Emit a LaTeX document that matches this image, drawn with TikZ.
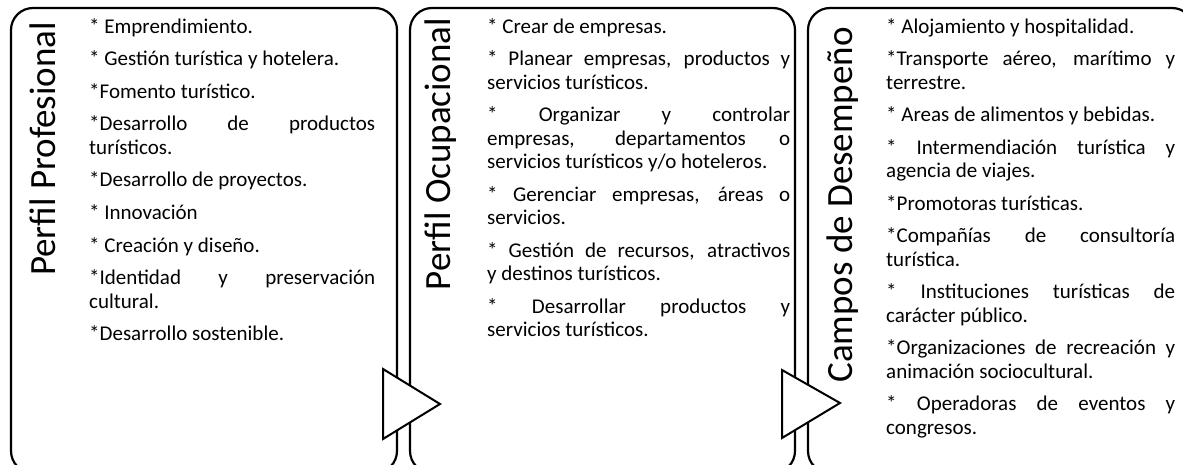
\documentclass[tikz,border=0pt]{standalone}
\usepackage{fontspec}
\setmainfont{Carlito}
\begin{document}
\begin{tikzpicture}[x=1pt,y=-1pt,
  panel/.style={draw=black, line width=2.2pt, rounded corners=22pt},
  tri/.style={draw=black, line width=2pt, fill=white, line join=miter},
  title/.style={rotate=90, anchor=base, inner sep=0pt, font=\fontsize{37}{40}\selectfont},
  body/.style={anchor=north west, inner sep=0pt, align=justify, font=\fontsize{21}{23.4}\selectfont}]
\useasboundingbox (0,0) rectangle (1183,465);
\clip (0,0) rectangle (1183,465);
% panels
\draw[panel] (11,8) rectangle (397,473);
\draw[panel] (410,8) rectangle (795,473);
\draw[panel] (808,8) rectangle (1194,473);
% titles
\node[title] (t1) at (55,149) {Perfil Profesional};
\node[title] (t2) at (450,154) {Perfil Ocupacional};
\node[title] (t3) at (852,205) {Campos de Desempeño};
% texts
\newcommand{\bodysetup}{\setlength{\parskip}{9.2pt}\hyphenpenalty=10000\exhyphenpenalty=10000\tolerance=9999\emergencystretch=20pt\strut}
\node[body, text width=286pt] (b1) at (89,16.6) {\bodysetup
* Emprendimiento.\par
* Gestión turística y hotelera.\par
*Fomento turístico.\par
*Desarrollo de productos\linebreak turísticos.\par
*Desarrollo de proyectos.\par
* Innovación\par
* Creación y diseño.\par
*Identidad y preservación\linebreak cultural.\par
*Desarrollo sostenible.};
\node[body, text width=303pt] (b2) at (487,16.6) {\bodysetup
* Crear de empresas.\par
* Planear empresas, productos y\linebreak servicios turísticos.\par
* Organizar y controlar\linebreak empresas, departamentos o\linebreak servicios turísticos y/o hoteleros.\par
* Gerenciar empresas, áreas o\linebreak servicios.\par
* Gestión de recursos, atractivos\linebreak y destinos turísticos.\par
* Desarrollar productos y\linebreak servicios turísticos.};
\node[body, text width=289pt] (b3) at (886,16.6) {\bodysetup
* Alojamiento y hospitalidad.\par
*Transporte aéreo, marítimo y\linebreak terrestre.\par
* Areas de alimentos y bebidas.\par
* Intermendiación turística y\linebreak agencia de viajes.\par
*Promotoras turísticas.\par
*Compañías de consultoría\linebreak turística.\par
* Instituciones turísticas de\linebreak carácter público.\par
*Organizaciones de recreación y\linebreak animación sociocultural.\par
* Operadoras de eventos y\linebreak congresos.};
% arrows
\draw[tri] (383,369) -- (383,439) -- (440,404) -- cycle;
\draw[tri] (782,370) -- (782,438) -- (840,403) -- cycle;
\end{tikzpicture}
\end{document}
